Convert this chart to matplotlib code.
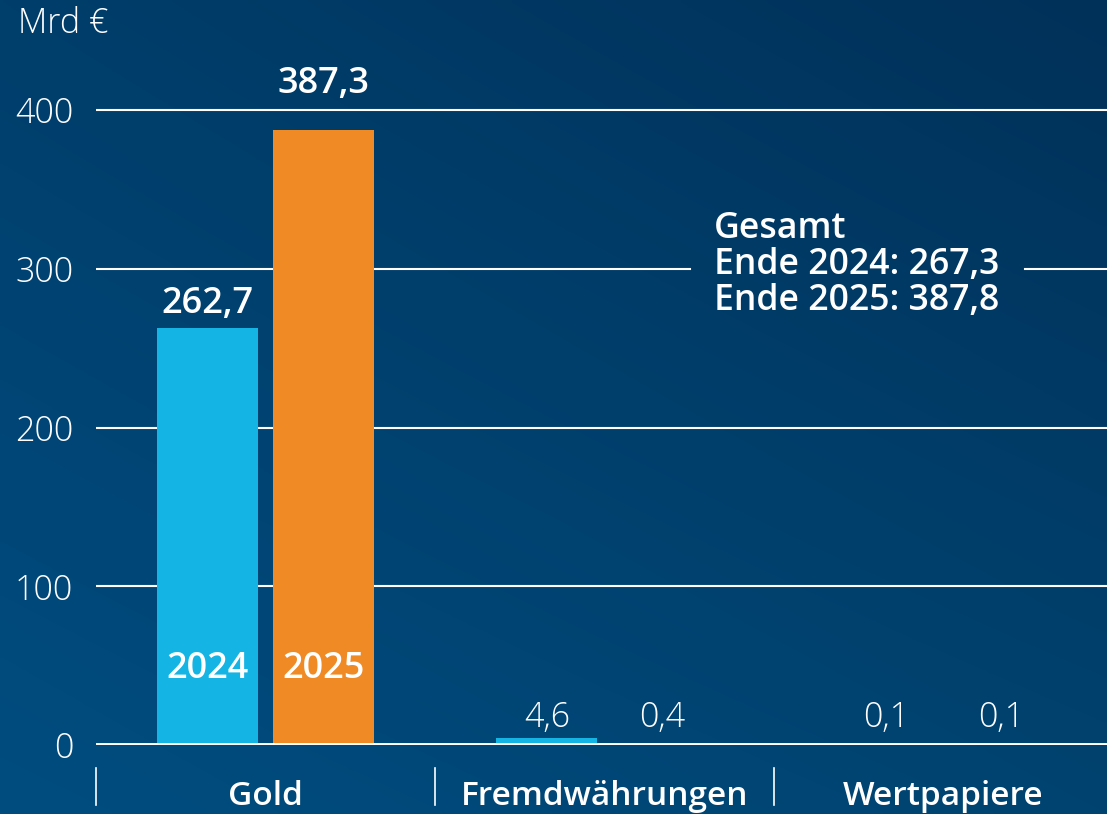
import matplotlib
matplotlib.use("Agg")
import matplotlib.pyplot as plt
import matplotlib.transforms as mtransforms
import numpy as np

categories = ["Gold", "Fremdwährungen", "Wertpapiere"]
years = ["2024", "2025"]
values_2024 = [262.7, 4.6, 0.1]
values_2025 = [387.3, 0.4, 0.1]
labels_2024 = ["262,7", "4,6", "0,1"]
labels_2025 = ["387,3", "0,4", "0,1"]
yticks = [0, 100, 200, 300, 400]
unit_label = "Mrd €"
total_lines = ["Gesamt", "Ende 2024: 267,3", "Ende 2025: 387,8"]

C2024 = "#14b4e4"
C2025 = "#f08a24"
FONT = ["Open Sans", "DejaVu Sans"]
plt.rcParams["font.family"] = FONT

W, H = 1107, 814
fig = plt.figure(figsize=(W / 100, H / 100), dpi=100)

# gradient background
bg = fig.add_axes([0, 0, 1, 1], zorder=-10)
tl = np.array([0x00, 0x3e, 0x6b]) / 255
tr = np.array([0x00, 0x31, 0x59]) / 255
bl = np.array([0x00, 0x4d, 0x80]) / 255
br = np.array([0x00, 0x43, 0x70]) / 255
u = np.linspace(0, 1, 200)[None, :, None]
v = np.linspace(0, 1, 200)[:, None, None]
img = (1 - v) * ((1 - u) * tl + u * tr) + v * ((1 - u) * bl + u * br)
bg.imshow(img, aspect="auto", extent=[0, 1, 0, 1], interpolation="bilinear")
bg.set_axis_off()

ax_left, ax_bottom = 96 / W, (H - 745) / H
ax = fig.add_axes([ax_left, ax_bottom, 1 - ax_left, 745 / H])
ax.patch.set_alpha(0)
for s in ax.spines.values():
    s.set_visible(False)

x = np.arange(len(categories))
bw = 0.298
off = 0.17
ax.bar(x - off, values_2024, bw, color=C2024, zorder=3)
ax.bar(x + off, values_2025, bw, color=C2025, zorder=3)

ax.set_xlim(-0.5, (W - 96) / 339 - 0.5)
ax.set_ylim(0, 745 / 1.5875)

# gridlines
for t in yticks[1:]:
    if t == 300:
        ax.axhline(t, xmin=0, xmax=0.5875, color="white", lw=1.5, zorder=1)
        ax.axhline(t, xmin=0.919, xmax=1, color="white", lw=1.5, zorder=1)
    else:
        ax.axhline(t, color="white", lw=1.5, zorder=1)
ax.axhline(0, color="white", lw=2.8, zorder=4)

ax.set_xticks([])
ax.set_yticks(yticks)
ax.set_yticklabels([str(t) for t in yticks], color="white", fontsize=24.5, fontweight="light")
ax.tick_params(axis="y", length=0, pad=16.5)

# value labels
def lab_y(val):
    y = max(val, 2) + 9.5
    if 380 < val < 400:
        y = 410.5
    return y

for i in range(len(categories)):
    for val, lab, dx in ((values_2024[i], labels_2024[i], -off), (values_2025[i], labels_2025[i], off)):
        big = val > 50
        ax.text(x[i] + dx, lab_y(val) if big else 11.3, lab, ha="center", va="baseline",
                color="white", fontsize=26 if big else 24.5,
                fontweight="semibold" if big else "light", zorder=5)

# year labels inside gold bars
ax.text(x[0] - off, 42, years[0], ha="center", va="baseline", color="white", fontsize=26,
        fontweight="semibold", zorder=5)
ax.text(x[0] + off, 42, years[1], ha="center", va="baseline", color="white", fontsize=26,
        fontweight="semibold", zorder=5)

# category labels & separators
trans = mtransforms.blended_transform_factory(ax.transData, ax.transAxes)
for i, c in enumerate(categories):
    ax.text(x[i], -0.0805, c, transform=trans, ha="center", va="baseline", color="white",
            fontsize=24, fontweight="semibold")
    ax.plot([i - 0.5, i - 0.5], [-0.031, -0.0805], transform=trans, color="white", lw=1.2,
            clip_on=False)

# unit label
fig.text(18 / W, 1 - 33 / H, unit_label, ha="left", va="baseline", color="white",
         fontsize=24.5, fontweight="light")

# total box
for k, line in enumerate(total_lines):
    fig.text(714 / W, 1 - (238 + 36 * k) / H, line, ha="left", va="baseline", color="white",
             fontsize=25.7, fontweight="semibold")

fig.savefig("out.png", dpi=100)
